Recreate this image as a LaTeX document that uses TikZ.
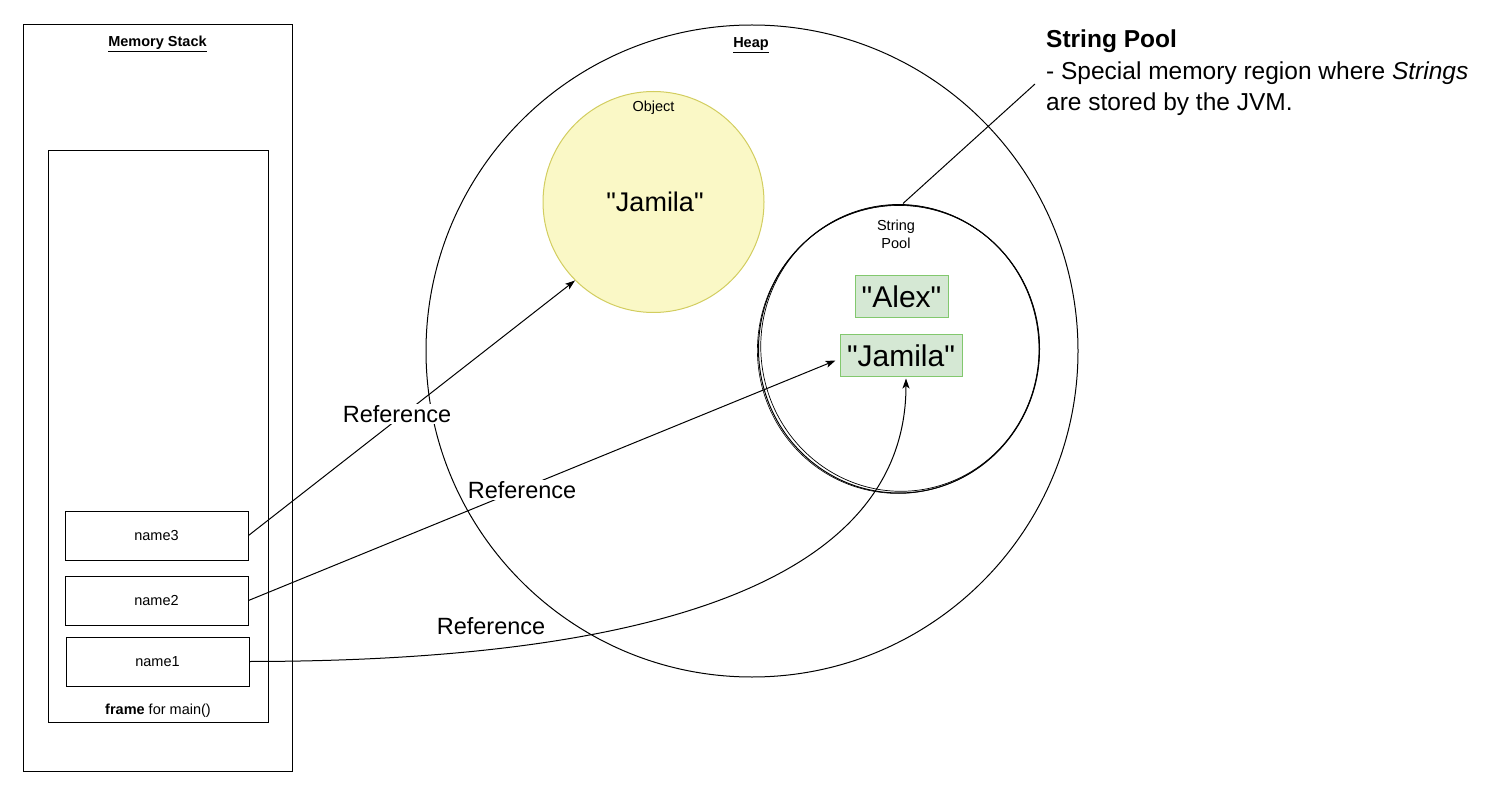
\documentclass[tikz,border=0pt]{standalone}
\usepackage{fontspec}
\setmainfont{Liberation Sans}[Ligatures=TeXOff]
\usetikzlibrary{arrows.meta,calc,shapes.geometric}
\newcommand{\dq}{"}
\definecolor{objfill}{RGB}{250,248,198}
\definecolor{objline}{RGB}{210,205,95}
\definecolor{grfill}{RGB}{213,232,212}
\definecolor{grline}{RGB}{130,200,110}
\tikzset{
  box/.style={draw, line width=1pt, rectangle, inner sep=0pt},
  small/.style={font=\fontsize{14.5}{17}\selectfont},
  reflabel/.style={fill=white, inner sep=1pt, font=\fontsize{23.5}{27}\selectfont},
  conn/.style={line width=1pt, -{Stealth[length=10pt,width=7pt,inset=2.5pt]}},
  strbox/.style={draw=grline, fill=grfill, line width=1pt, inner sep=0pt, font=\fontsize{30}{34}\selectfont}
}
\begin{document}
\begin{tikzpicture}[x=1pt,y=-1pt]
\useasboundingbox (0,0) rectangle (1489,794);
% Memory stack
\node[box, minimum width=269pt, minimum height=746pt] (stack) at (157.5,398) {};
\node[small, font=\fontsize{14.5}{17}\selectfont\bfseries] (stacktitle) at (157.5,44) {\underline{Memory Stack}};
\node[box, minimum width=220pt, minimum height=571pt] (frame) at (158,436.5) {};
\node[small] (frametxt) at (158,711) {\textbf{frame} for main()};
\node[box, small, minimum width=183pt, minimum height=49pt] (n3) at (156.5,535.5) {name3};
\node[box, small, minimum width=183pt, minimum height=49pt] (n2) at (156.5,600.5) {name2};
\node[box, small, minimum width=183pt, minimum height=49pt] (n1) at (157.5,661.5) {name1};
% Heap
\node[draw, circle, line width=1pt, minimum size=652pt, inner sep=0pt] (heap) at (752,351) {};
\node[small, font=\fontsize{14.5}{17}\selectfont\bfseries] (heaptitle) at (751,45) {\underline{Heap}};
% Object
\node[draw=objline, fill=objfill, circle, line width=1pt, minimum size=221pt, inner sep=0pt] (obj) at (653.5,202) {};
\node[small] (objtitle) at (653.5,108) {Object};
\node[font=\fontsize{27}{31}\selectfont] (objtxt) at (655,202) {\dq Jamila\dq};
% String pool (sketchy circle)
\node[draw, ellipse, line width=1pt, minimum width=281pt, minimum height=288pt, inner sep=0pt] (pool) at (899,349) {};
\draw[line width=0.7pt, rotate around={8:(899,349)}] (900,348) ellipse [x radius=139pt, y radius=143.5pt];
\draw[line width=0.6pt, rotate around={-6:(899,349)}] (898.5,349.5) ellipse [x radius=141pt, y radius=144pt];
\node[small, align=center, font=\fontsize{14.5}{18}\selectfont] (pooltitle) at (896,234) {String\\Pool};
\node[strbox, minimum width=93pt, minimum height=42pt] (alex) at (901.5,297) {\dq Alex\dq};
\node[strbox, minimum width=122pt, minimum height=41pt] (jam2) at (901,355.5) {\dq Jamila\dq};
% Annotation
\node[anchor=north west, align=left, inner sep=0pt, font=\fontsize{24.5}{31.5}\selectfont] (note) at (1046,30) {\textbf{String Pool}\\- Special memory region where \textit{Strings}\\are stored by the JVM.};
\coordinate (callend) at (1035,84);
\draw[line width=1pt] ($(pool.north)+(4,-1)$) -- (callend);
% Connectors
\draw[conn] (n3.east) -- (obj.225);
\draw[conn] (n2.east) -- ($(jam2.west)+(-4,5)$);
\draw[conn] (n1.east) .. controls (680,661) and (906,570) .. ($(jam2.south)+(5,2)$);
% Labels drawn last
\node[reflabel] (r3) at (397,414) {Reference};
\node[reflabel] (r2) at (522,490) {Reference};
\node[reflabel] (r1) at (491,626) {Reference};
\end{tikzpicture}
\end{document}
